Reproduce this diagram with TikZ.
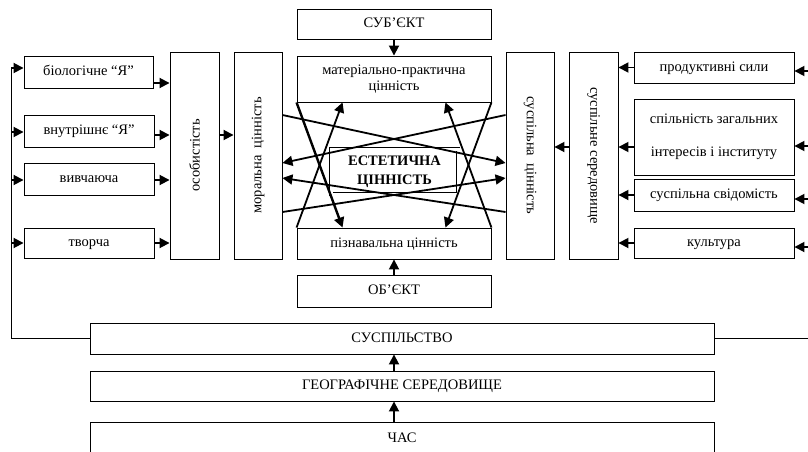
\documentclass[tikz,border=0pt]{standalone}
\usepackage{fontspec}
\setmainfont{Liberation Serif}
\usetikzlibrary{arrows.meta}
\begin{document}
\begin{tikzpicture}[x=1pt,y=-1pt,
  font=\fontsize{14.5}{16}\selectfont,
  box/.style={draw, line width=0.9pt, inner sep=0pt, align=center},
  one/.style={text height=10.5pt, text depth=3.5pt},
  arr/.style={line width=1.8pt, -{Triangle[length=10pt,width=10pt]}},
  thin/.style={line width=0.9pt}]
\clip (0,0) rectangle (808,452);
\fill[white] (0,0) rectangle (808,452);
% centre column
\node[box, one, minimum width=194pt, minimum height=30pt] (subj) at (394,24) {СУБ’ЄКТ};
\node[box, minimum width=194pt, minimum height=46pt] (mat) at (394,79) {матеріально-практична\\цінність};
\node[box, one, minimum width=194pt, minimum height=31pt] (piz) at (394,243.5) {пізнавальна цінність};
\node[box, one, minimum width=194pt, minimum height=32pt] (obj) at (394,291) {ОБ’ЄКТ};
\node[draw, double, double distance=3pt, line width=0.6pt, inner sep=0pt, align=center,
      minimum width=127pt, minimum height=45pt, font=\fontsize{14.5}{16}\selectfont\bfseries]
      (est) at (394.5,171.5) {ЕСТЕТИЧНА\\[3pt]ЦІННІСТЬ};
% left column
\node[box, one, minimum width=129pt, minimum height=32pt] (bio) at (88.5,72) {біологічне “Я”};
\node[box, one, minimum width=130pt, minimum height=32pt] (vnut) at (89,131) {внутрішнє “Я”};
\node[box, one, minimum width=130pt, minimum height=32pt] (vyv) at (89,179) {вивчаюча};
\node[box, one, minimum width=130pt, minimum height=30pt] (tvor) at (89,243) {творча};
\node[box, minimum width=49pt, minimum height=207pt,
      label={[rotate=90]center:особистість}] (osob) at (194.5,155.5) {};
\node[box, minimum width=48pt, minimum height=207pt,
      label={[rotate=90]center:моральна\ \ цінність}] (moral) at (258,155.5) {};
% right column
\node[box, minimum width=48pt, minimum height=207pt,
      label={[rotate=-90]center:суспільна\ \ цінність}] (susc) at (530,155.5) {};
\node[box, minimum width=49pt, minimum height=207pt,
      label={[rotate=-90]center:суспільне середовище}] (sere) at (593.5,155.5) {};
\node[box, one, minimum width=160pt, minimum height=31pt] (prod) at (714,67.5) {продуктивні сили};
\node[box, minimum width=160pt, minimum height=76pt] (spil) at (714,137) {спільність загальних\\[17pt]інтересів і інституту};
\node[box, one, minimum width=160pt, minimum height=32pt] (svid) at (714,195) {суспільна свідомість};
\node[box, one, minimum width=160pt, minimum height=30pt] (kult) at (714,243) {культура};
% bottom
\node[box, one, minimum width=624pt, minimum height=31pt] (susp) at (402,338.5) {СУСПІЛЬСТВО};
\node[box, one, minimum width=624pt, minimum height=30pt] (geo) at (402,386) {ГЕОГРАФІЧНЕ СЕРЕДОВИЩЕ};
\node[box, one, minimum width=624pt, minimum height=33pt] (chas) at (402,438.5) {ЧАС};
% outer feedback lines
\coordinate (L1) at (11,68);
\coordinate (L2) at (11,132);
\coordinate (L3) at (11,180);
\coordinate (L4) at (11,243);
\coordinate (R1) at (812,71);
\coordinate (R2) at (812,146);
\coordinate (R3) at (812,199);
\coordinate (R4) at (812,247);
\draw[thin] (L1) -- (L1 |- susp.west) -- (susp.west);
\draw[thin] (susp.east) -- (R1 |- susp.east) -- (R1);
\foreach \c/\b in {L1/bio, L2/vnut, L3/vyv, L4/tvor}
  \draw[arr] (\c) -- (\c -| \b.west);
\foreach \c/\b in {R1/prod, R2/spil, R3/svid, R4/kult}
  \draw[arr] (\c) -- (\c -| \b.east);
% left boxes to особистість
\draw[arr] ([yshift=-11pt]bio.east) -- ([yshift=-11pt]bio.east -| osob.west);
\draw[arr] ([yshift=-4pt]vnut.east) -- ([yshift=-4pt]vnut.east -| osob.west);
\draw[arr] ([yshift=-1pt]vyv.east) -- ([yshift=-1pt]vyv.east -| osob.west);
\draw[arr] (tvor.east) -- (tvor.east -| osob.west);
\draw[arr] ([yshift=20.5pt]osob.east) -- ([yshift=20.5pt]osob.east -| moral.west);
% right boxes to середовище
\draw[arr] (prod.west) -- (prod.west -| sere.east);
\draw[arr] ([yshift=-10pt]spil.west) -- ([yshift=-10pt]spil.west -| sere.east);
\draw[arr] (svid.west) -- (svid.west -| sere.east);
\draw[arr] (kult.west) -- (kult.west -| sere.east);
\draw[arr] ([yshift=8.5pt]sere.west) -- ([yshift=8.5pt]sere.west -| susc.east);
% vertical arrows
\draw[arr] (subj.south) -- (mat.north);
\draw[arr] (obj.north) -- (piz.south);
\draw[arr] (geo.north -| obj.south) -- (susp.south -| obj.south);
\draw[arr] (chas.north -| obj.south) -- (geo.south -| obj.south);
% crossing diagonals
\draw[arr, line width=2.4pt] (mat.south west) -- ([xshift=46pt]piz.north west);
\draw[arr] (piz.north west) -- ([xshift=46pt]mat.south west);
\draw[arr] (mat.south east) -- ([xshift=-46pt]piz.north east);
\draw[arr] (piz.north east) -- ([xshift=-46pt]mat.south east);
% crossing horizontals
\draw[arr] ([yshift=40.5pt]moral.east) -- ([yshift=-7.5pt]susc.west);
\draw[arr] ([yshift=40.5pt]susc.west) -- ([yshift=-7.5pt]moral.east);
\draw[arr] ([yshift=-56.5pt]moral.east) -- ([yshift=-22.5pt]susc.west);
\draw[arr] ([yshift=-56.5pt]susc.west) -- ([yshift=-22.5pt]moral.east);
\end{tikzpicture}
\end{document}
